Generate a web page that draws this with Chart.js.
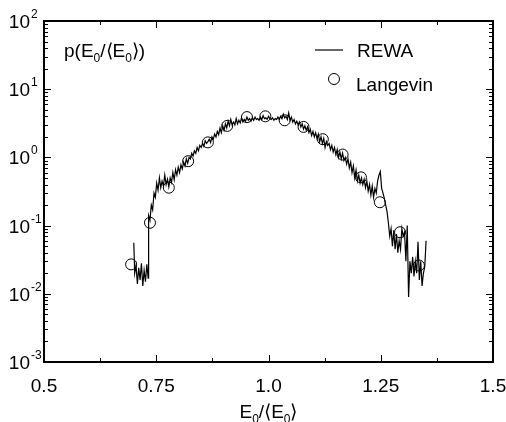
<!DOCTYPE html>
<html>
<head>
<meta charset="utf-8">
<script src="https://cdn.jsdelivr.net/npm/chart.js@4.4.0/dist/chart.umd.min.js"></script>
<style>
  html, body { margin: 0; padding: 0; background: #fff; }
  #chart { display: block; }
</style>
</head>
<body>
<canvas id="chart" width="506" height="422"></canvas>
<script>
// REWA distribution (noisy histogram)
const rewaX = [
  0.700, 0.702, 0.705, 0.708, 0.711, 0.714, 0.717, 0.720, 0.723, 0.726, 0.729, 0.732, 0.733,
  0.736, 0.739, 0.742, 0.745, 0.748, 0.751, 0.754, 0.757, 0.760, 0.763, 0.766, 0.769, 0.772,
  0.775, 0.778, 0.781, 0.784, 0.787, 0.790, 0.793, 0.796, 0.799, 0.802, 0.805, 0.808, 0.811,
  0.814, 0.817, 0.820, 0.823, 0.826, 0.829, 0.832, 0.835, 0.838, 0.841, 0.844, 0.847, 0.850,
  0.853, 0.856, 0.859, 0.862, 0.865, 0.868, 0.871, 0.874, 0.877, 0.880, 0.883, 0.886, 0.889,
  0.892, 0.895, 0.898, 0.901, 0.904, 0.907, 0.910, 0.913, 0.916, 0.919, 0.922, 0.925, 0.928,
  0.931, 0.934, 0.937, 0.940, 0.943, 0.946, 0.949, 0.952, 0.955, 0.958, 0.961, 0.964, 0.967,
  0.970, 0.973, 0.976, 0.979, 0.982, 0.985, 0.988, 0.991, 0.994, 0.997, 1.000, 1.003, 1.006,
  1.009, 1.012, 1.015, 1.018, 1.021, 1.024, 1.027, 1.030, 1.033, 1.036, 1.039, 1.042, 1.045,
  1.048, 1.051, 1.054, 1.057, 1.060, 1.063, 1.066, 1.069, 1.072, 1.075, 1.078, 1.081, 1.084,
  1.087, 1.090, 1.093, 1.096, 1.099, 1.102, 1.105, 1.108, 1.111, 1.114, 1.117, 1.120, 1.123,
  1.126, 1.129, 1.132, 1.135, 1.138, 1.141, 1.144, 1.147, 1.150, 1.153, 1.156, 1.159, 1.162,
  1.165, 1.168, 1.171, 1.174, 1.177, 1.180, 1.183, 1.186, 1.189, 1.192, 1.195, 1.198, 1.201,
  1.204, 1.207, 1.210, 1.213, 1.216, 1.219, 1.222, 1.225, 1.228, 1.231, 1.234, 1.237, 1.240,
  1.243, 1.246, 1.249, 1.252, 1.255, 1.258, 1.261, 1.264, 1.267, 1.270, 1.273, 1.276, 1.279,
  1.282, 1.285, 1.288, 1.291, 1.294, 1.297, 1.300, 1.303, 1.306, 1.309, 1.312, 1.315, 1.318,
  1.321, 1.324, 1.327, 1.330, 1.333, 1.336, 1.339, 1.342, 1.345, 1.348, 1.351
];
const rewaY = [
  0.056, 0.020, 0.026, 0.014, 0.024, 0.016, 0.028, 0.013, 0.022, 0.015, 0.027, 0.017, 0.14,
  0.12, 0.20, 0.17, 0.30, 0.26, 0.42, 0.33, 0.50, 0.36, 0.45, 0.38, 0.55, 0.40,
  0.48, 0.37, 0.50, 0.43, 0.60, 0.47, 0.66, 0.55, 0.72, 0.60, 0.78, 0.68, 0.85,
  0.75, 0.95, 0.82, 1.00, 0.95, 1.15, 1.05, 1.25, 1.15, 1.40, 1.25, 1.50, 1.40,
  1.60, 1.45, 1.75, 1.60, 1.70, 1.85, 1.65, 2.00, 1.85, 2.20, 2.00, 2.40, 2.15,
  2.70, 2.30, 2.90, 2.50, 3.10, 2.70, 3.40, 2.90, 3.60, 3.00, 3.30, 3.00, 3.70,
  3.10, 3.50, 3.20, 3.80, 3.30, 3.60, 3.40, 3.90, 3.50, 3.70, 3.40, 3.80, 3.50,
  3.90, 3.60, 3.70, 3.50, 3.90, 3.60, 4.10, 3.70, 3.80, 3.60, 4.00, 3.70, 3.60,
  3.80, 3.50, 3.70, 3.60, 3.90, 3.60, 4.00, 3.70, 4.30, 3.80, 4.00, 3.60, 4.50,
  3.50, 3.90, 3.30, 3.60, 3.10, 3.40, 3.00, 3.30, 2.80, 3.10, 2.60, 2.90, 2.50,
  2.80, 2.30, 2.60, 2.10, 2.40, 2.00, 2.30, 1.90, 2.20, 1.70, 2.00, 1.60, 1.90,
  1.40, 1.70, 1.50, 1.60, 1.30, 1.50, 1.20, 1.40, 1.10, 1.30, 1.00, 1.20, 0.95,
  1.15, 0.90, 1.00, 0.80, 0.95, 0.70, 0.85, 0.60, 0.75, 0.50, 0.65, 0.45, 0.55,
  0.42, 0.50, 0.40, 0.48, 0.36, 0.45, 0.32, 0.40, 0.28, 0.38, 0.26, 0.35, 0.30,
  0.45, 0.55, 0.62, 0.35, 0.30, 0.25, 0.20, 0.16, 0.11, 0.07, 0.09, 0.05, 0.085,
  0.045, 0.075, 0.040, 0.060, 0.045, 0.090, 0.070, 0.080, 0.030, 0.10, 0.009, 0.030, 0.020,
  0.035, 0.018, 0.030, 0.020, 0.058, 0.016, 0.030, 0.013, 0.020, 0.025, 0.060
];

// Langevin points
const langevinX = [0.694, 0.736, 0.778, 0.821, 0.865, 0.908, 0.952, 0.993,
                   1.036, 1.078, 1.121, 1.165, 1.206, 1.248, 1.293, 1.335];
const langevinY = [0.027, 0.11, 0.36, 0.88, 1.66, 2.9, 3.9, 4.0,
                   3.5, 2.8, 1.85, 1.1, 0.51, 0.22, 0.08, 0.026];

// Axis ticks
const xTickValues = [0.5, 0.75, 1.0, 1.25, 1.5];
const xTickLabels = ['0.5', '0.75', '1.0', '1.25', '1.5'];
const xMinorValues = [0.625, 0.875, 1.125, 1.375];
const yTickExponents = [2, 1, 0, -1, -2, -3];

const FONT = '"Liberation Sans", Arial, Helvetica, sans-serif';

// draw text made of parts, some raised (sup) or lowered (sub)
function richText(ctx, parts, x, y, align) {
  const big = '19px ' + FONT;
  const small = '12px ' + FONT;
  let width = 0;
  parts.forEach(p => {
    ctx.font = (p.sub || p.sup) ? small : big;
    width += ctx.measureText(p.t).width;
  });
  let cx = align === 'center' ? x - width / 2 : align === 'right' ? x - width : x;
  ctx.textAlign = 'left';
  ctx.textBaseline = 'alphabetic';
  parts.forEach(p => {
    ctx.font = (p.sub || p.sup) ? small : big;
    const dy = p.sub ? 5 : p.sup ? -9 : 0;
    ctx.fillText(p.t, cx, y + dy);
    cx += ctx.measureText(p.t).width;
  });
}

const framePlugin = {
  id: 'frame',
  afterDraw(chart) {
    const { ctx, chartArea: a, scales: { x, y } } = chart;
    ctx.save();
    ctx.strokeStyle = '#000';
    ctx.fillStyle = '#000';

    // inward ticks on all four sides
    ctx.lineWidth = 1;
    ctx.beginPath();
    xTickValues.forEach(v => {
      const px = Math.round(x.getPixelForValue(v)) + 0.5;
      ctx.moveTo(px, a.bottom); ctx.lineTo(px, a.bottom - 7);
      ctx.moveTo(px, a.top); ctx.lineTo(px, a.top + 7);
    });
    xMinorValues.forEach(v => {
      const px = Math.round(x.getPixelForValue(v)) + 0.5;
      ctx.moveTo(px, a.bottom); ctx.lineTo(px, a.bottom - 4);
      ctx.moveTo(px, a.top); ctx.lineTo(px, a.top + 4);
    });
    yTickExponents.forEach(e => {
      const py = Math.round(y.getPixelForValue(Math.pow(10, e))) + 0.5;
      ctx.moveTo(a.left, py); ctx.lineTo(a.left + 7, py);
      ctx.moveTo(a.right, py); ctx.lineTo(a.right - 7, py);
      if (e > -3) {
        for (let m = 2; m <= 9; m++) {
          const pm = Math.round(y.getPixelForValue(m * Math.pow(10, e - 1))) + 0.5;
          ctx.moveTo(a.left, pm); ctx.lineTo(a.left + 4, pm);
          ctx.moveTo(a.right, pm); ctx.lineTo(a.right - 4, pm);
        }
      }
    });
    ctx.stroke();

    ctx.lineWidth = 2;
    ctx.strokeRect(a.left, a.top, a.right - a.left, a.bottom - a.top);

    // tick labels
    ctx.font = '19px ' + FONT;
    ctx.textAlign = 'center';
    ctx.textBaseline = 'alphabetic';
    xTickValues.forEach((v, i) => {
      ctx.fillText(xTickLabels[i], x.getPixelForValue(v), a.bottom + 30);
    });
    yTickExponents.forEach(e => {
      const py = y.getPixelForValue(Math.pow(10, e));
      ctx.font = '19px ' + FONT;
      ctx.textAlign = 'right';
      ctx.fillText('10', 30, py + 7);
      ctx.font = '12px ' + FONT;
      ctx.textAlign = 'left';
      ctx.fillText(String(e), 31, py - 3);
    });

    // axis title and in-plot label
    richText(ctx, [{ t: 'E' }, { t: '0', sub: true }, { t: '/⟨E' }, { t: '0', sub: true }, { t: '⟩' }],
      (a.left + a.right) / 2, 418, 'center');
    richText(ctx, [{ t: 'p(E' }, { t: '0', sub: true }, { t: '/⟨E' }, { t: '0', sub: true }, { t: '⟩)' }],
      64, 57, 'left');

    // legend
    const ds = chart.data.datasets;
    ctx.lineWidth = 1.2;
    ctx.beginPath();
    ctx.moveTo(315, 50); ctx.lineTo(343, 50);
    ctx.stroke();
    ctx.lineWidth = 1;
    ctx.beginPath();
    ctx.arc(334, 79, 5.5, 0, Math.PI * 2);
    ctx.stroke();
    ctx.font = '19px ' + FONT;
    ctx.textAlign = 'left';
    ctx.fillText(ds[0].label, 357, 57);
    ctx.fillText(ds[1].label, 356, 91);
    ctx.restore();
  }
};

new Chart(document.getElementById('chart').getContext('2d'), {
  type: 'scatter',
  data: {
    datasets: [
      {
        label: 'REWA',
        data: rewaX.map((v, i) => ({ x: v, y: rewaY[i] })),
        showLine: true,
        borderColor: '#000',
        borderWidth: 1.2,
        pointRadius: 0,
        tension: 0
      },
      {
        label: 'Langevin',
        data: langevinX.map((v, i) => ({ x: v, y: langevinY[i] })),
        showLine: false,
        pointRadius: 5.5,
        pointStyle: 'circle',
        borderColor: '#000',
        backgroundColor: 'rgba(0,0,0,0)',
        borderWidth: 1
      }
    ]
  },
  options: {
    responsive: false,
    animation: false,
    devicePixelRatio: 1,
    layout: { padding: { left: 44, right: 13, top: 21, bottom: 60 } },
    plugins: {
      legend: { display: false },
      tooltip: { enabled: false }
    },
    scales: {
      x: { type: 'linear', min: 0.5, max: 1.5, display: false },
      y: { type: 'logarithmic', min: 0.001, max: 100, display: false }
    }
  },
  plugins: [framePlugin]
});
</script>
</body>
</html>
